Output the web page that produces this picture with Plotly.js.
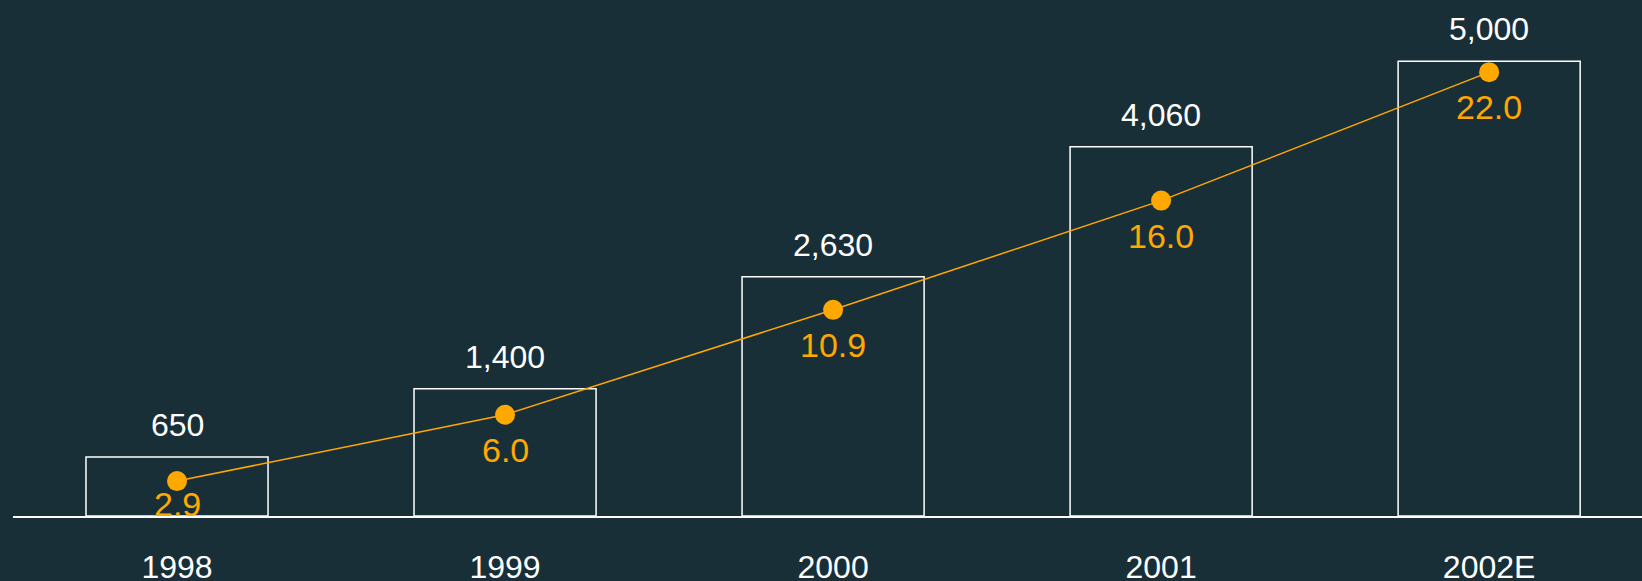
<!DOCTYPE html>
<html>
<head>
<meta charset="utf-8">
<script src="https://cdn.plot.ly/plotly-3.0.1.min.js"></script>
<style>html,body{margin:0;padding:0;background:#192f38;}#chart{width:1642px;height:581px;}</style>
</head>
<body>
<div id="chart"></div>
<script>
// Data
const years = ['1998', '1999', '2000', '2001', '2002E'];
const barValues = [650, 1400, 2630, 4060, 5000];
const barLabels = ['650', '1,400', '2,630', '4,060', '5,000'];
const lineValues = [2.9, 6.0, 10.9, 16.0, 22.0];
const lineLabels = ['2.9', '6.0', '10.9', '16.0', '22.0'];

const BG = '#192f38';
const ORANGE = '#ffa800';
const FONT = 'Liberation Sans, Arial, sans-serif';

const bars = {
  type: 'bar',
  x: years,
  y: barValues,
  width: 0.555,
  marker: {color: 'rgba(0,0,0,0)', line: {color: '#ffffff', width: 1.5}},
  hoverinfo: 'skip',
  cliponaxis: false
};

const line = {
  type: 'scatter',
  mode: 'lines+markers',
  x: years,
  y: lineValues,
  yaxis: 'y2',
  line: {color: ORANGE, width: 1.5},
  marker: {color: ORANGE, size: 20},
  cliponaxis: false,
  hoverinfo: 'skip'
};

const barAnn = years.map((y, i) => ({
  x: i, y: barValues[i], xref: 'x', yref: 'y',
  text: barLabels[i], showarrow: false,
  yanchor: 'bottom', yshift: 12,
  font: {color: '#ffffff', size: 32, family: FONT}
}));

const lineAnn = years.map((y, i) => ({
  x: i, y: lineValues[i], xref: 'x', yref: 'y2',
  text: lineLabels[i], showarrow: false,
  yanchor: 'middle', yshift: i === 0 ? -23 : -35,
  font: {color: ORANGE, size: 34, family: FONT}
}));

const layout = {
  width: 1642, height: 581,
  paper_bgcolor: BG, plot_bgcolor: BG,
  margin: {l: 13, r: 0, t: 0, b: 65},
  showlegend: false,
  font: {family: FONT, color: '#ffffff'},
  xaxis: {
    type: 'category',
    range: [-0.5, 4.466],
    showline: true, linecolor: '#ffffff', linewidth: 1.5,
    showgrid: false, zeroline: false, ticks: '',
    tickfont: {size: 32, color: '#ffffff', family: FONT},
    ticklabelstandoff: 22,
    automargin: false
  },
  yaxis: {
    range: [0, 5674], visible: false, showgrid: false, zeroline: false, fixedrange: true
  },
  yaxis2: {
    overlaying: 'y', range: [1.27, 25.37], visible: false, showgrid: false, zeroline: false
  },
  annotations: barAnn.concat(lineAnn)
};

Plotly.newPlot('chart', [bars, line], layout, {staticPlot: true, displayModeBar: false});
</script>
</body>
</html>
